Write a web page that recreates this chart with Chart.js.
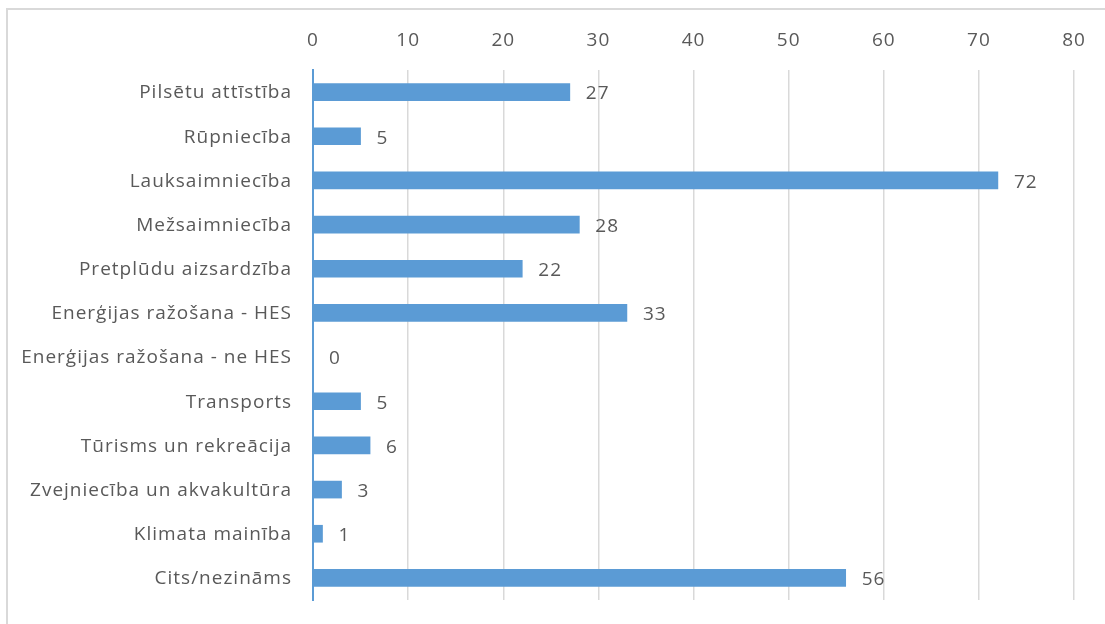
<!DOCTYPE html>
<html>
<head>
<meta charset="utf-8">
<script src="https://cdn.jsdelivr.net/npm/chart.js@4/dist/chart.umd.min.js"></script>
<style>
  html, body { margin: 0; padding: 0; background: #fff; }
  #wrap { position: relative; width: 1105px; height: 624px; }
</style>
</head>
<body>
<div id="wrap"><canvas id="barChart"></canvas></div>
<script>
const categories = [
    "Pilsētu attīstība",
    "Rūpniecība",
    "Lauksaimniecība",
    "Mežsaimniecība",
    "Pretplūdu aizsardzība",
    "Enerģijas ražošana - HES",
    "Enerģijas ražošana - ne HES",
    "Transports",
    "Tūrisms un rekreācija",
    "Zvejniecība un akvakultūra",
    "Klimata mainība",
    "Cits/nezināms"
];
const counts = [27, 5, 72, 28, 22, 33, 0, 5, 6, 3, 1, 56];
const xTicks = [0, 10, 20, 30, 40, 50, 60, 70, 80];

const FONT = "'Open Sans', 'Noto Sans', sans-serif";
const TEXT = "#595959";

// grey frame around the picture (only top and left are in view)
// + wider letter spacing like the original rendering
const framePlugin = {
    id: "frame",
    beforeDraw(chart) {
        const ctx = chart.ctx;
        ctx.save();
        ctx.strokeStyle = "#d9d9d9";
        ctx.lineWidth = 2;
        ctx.beginPath();
        ctx.moveTo(7, chart.height);
        ctx.lineTo(7, 9);
        ctx.lineTo(chart.width, 9);
        ctx.stroke();
        ctx.restore();
        ctx.letterSpacing = "1px";
    }
};

// value labels at the end of each bar
const valueLabels = {
    id: "valueLabels",
    afterDatasetsDraw(chart) {
        const ctx = chart.ctx;
        const meta = chart.getDatasetMeta(0);
        ctx.save();
        ctx.fillStyle = TEXT;
        ctx.font = "19px " + FONT;
        ctx.textBaseline = "middle";
        ctx.textAlign = "left";
        meta.data.forEach((bar, i) => {
            ctx.fillText(String(counts[i]), bar.x + 16, bar.y + 2);
        });
        ctx.restore();
    }
};

new Chart(document.getElementById("barChart"), {
    type: "bar",
    data: {
        labels: categories,
        datasets: [{
            data: counts,
            backgroundColor: "#5b9bd5",
            borderWidth: 0,
            barThickness: 17
        }]
    },
    options: {
        indexAxis: "y",
        responsive: true,
        maintainAspectRatio: false,
        animation: false,
        layout: { padding: { top: 0, right: 31, bottom: 24, left: 0 } },
        plugins: {
            legend: { display: false },
            tooltip: { enabled: false }
        },
        scales: {
            x: {
                position: "top",
                min: 0,
                max: 80,
                afterBuildTicks(scale) {
                    scale.ticks = xTicks.map(v => ({ value: v }));
                },
                afterFit(scale) { scale.height = 70; },
                grid: { color: "#d9d9d9", lineWidth: 1.5, drawTicks: false },
                border: { display: false },
                ticks: {
                    padding: 18,
                    color: TEXT,
                    font: { family: FONT, size: 19 }
                }
            },
            y: {
                afterFit(scale) {
                    scale.width = 313;
                    scale.paddingTop = 0;
                    scale.paddingBottom = 0;
                },
                grid: { display: false, drawTicks: false },
                border: { display: true, color: "#5b9bd5", width: 2 },
                ticks: {
                    padding: 21,
                    labelOffset: 1,
                    color: TEXT,
                    font: { family: FONT, size: 19 }
                }
            }
        }
    },
    plugins: [framePlugin, valueLabels]
});
</script>
</body>
</html>
